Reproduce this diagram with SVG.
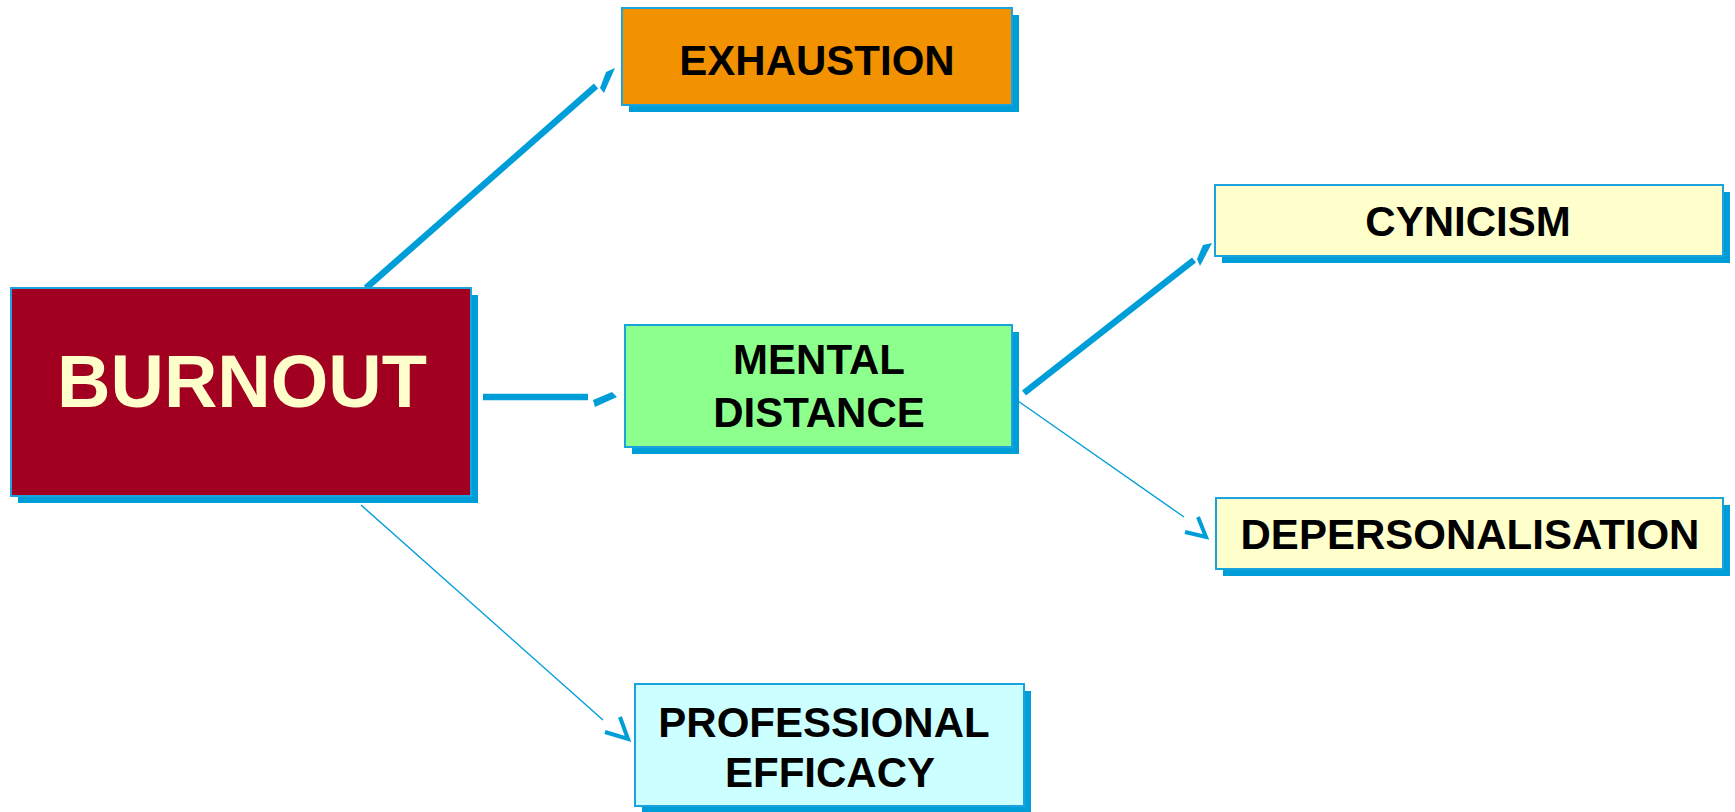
<svg xmlns="http://www.w3.org/2000/svg" width="1735" height="812" viewBox="0 0 1735 812">
  <style>
    .shadow { fill: #009ED9; }
    .box { stroke: #1AA3DD; stroke-width: 2; }
    .label { font-family: "Liberation Sans", Arial, sans-serif; font-weight: bold; font-size: 42px; fill: #000000; text-anchor: middle; }
    .title { font-family: "Liberation Sans", Arial, sans-serif; font-weight: bold; font-size: 74px; fill: #FFFFCC; text-anchor: middle; }
    .thick { stroke: #009ED9; stroke-width: 6.5; fill: none; }
    .thin { stroke: #009ED9; stroke-width: 1.4; fill: none; }
    .tip { fill: #009ED9; }
    .open { stroke: #009ED9; stroke-width: 4; fill: none; stroke-linejoin: miter; }
  </style>
  <rect width="1735" height="812" fill="#FFFFFF"/>

  <!-- connectors -->
  <g id="connectors">
    <!-- burnout to exhaustion -->
    <line class="thick" x1="366" y1="288" x2="596" y2="86"/>
    <polygon class="tip" points="600,88 606,72 615,68 604,93"/>
    <!-- burnout to mental distance -->
    <line class="thick" x1="483" y1="397" x2="588" y2="397"/>
    <polygon class="tip" points="593,400 612,392 617,397 595,407"/>
    <!-- burnout to professional efficacy -->
    <line class="thin" x1="361" y1="505" x2="603" y2="720"/>
    <polyline class="open" points="605,732 628,739 620,717"/>
    <!-- mental distance to cynicism -->
    <line class="thick" x1="1024" y1="393" x2="1194" y2="260"/>
    <polygon class="tip" points="1197,259 1203,245 1212,243 1200,266"/>
    <!-- mental distance to depersonalisation -->
    <line class="thin" x1="1018" y1="401" x2="1184" y2="517"/>
    <polyline class="open" points="1185,532 1206,537 1198,517"/>
  </g>

  <g id="burnout">
    <rect class="shadow" x="18" y="295" width="460" height="208"/>
    <rect class="box" x="11" y="288" width="460" height="208" fill="#A10021"/>
    <text class="title" x="242" y="407">BURNOUT</text>
  </g>

  <g id="exhaustion">
    <rect class="shadow" x="629" y="15" width="390" height="97"/>
    <rect class="box" x="622" y="8" width="390" height="97" fill="#F39200"/>
    <text class="label" x="817" y="75">EXHAUSTION</text>
  </g>

  <g id="mental-distance">
    <rect class="shadow" x="632" y="332" width="387" height="122"/>
    <rect class="box" x="625" y="325" width="387" height="122" fill="#8CFF8C"/>
    <text class="label" x="819" y="374">MENTAL</text>
    <text class="label" x="819" y="427">DISTANCE</text>
  </g>

  <g id="cynicism">
    <rect class="shadow" x="1222" y="192" width="508" height="71"/>
    <rect class="box" x="1215" y="185" width="508" height="71" fill="#FFFFCC"/>
    <text class="label" x="1468" y="236">CYNICISM</text>
  </g>

  <g id="depersonalisation">
    <rect class="shadow" x="1223" y="505" width="507" height="71"/>
    <rect class="box" x="1216" y="498" width="507" height="71" fill="#FFFFCC"/>
    <text class="label" x="1470" y="549">DEPERSONALISATION</text>
  </g>

  <g id="professional-efficacy">
    <rect class="shadow" x="642" y="691" width="389" height="122"/>
    <rect class="box" x="635" y="684" width="389" height="122" fill="#CCFFFF"/>
    <text class="label" x="824" y="737">PROFESSIONAL</text>
    <text class="label" x="830" y="787">EFFICACY</text>
  </g>
</svg>
